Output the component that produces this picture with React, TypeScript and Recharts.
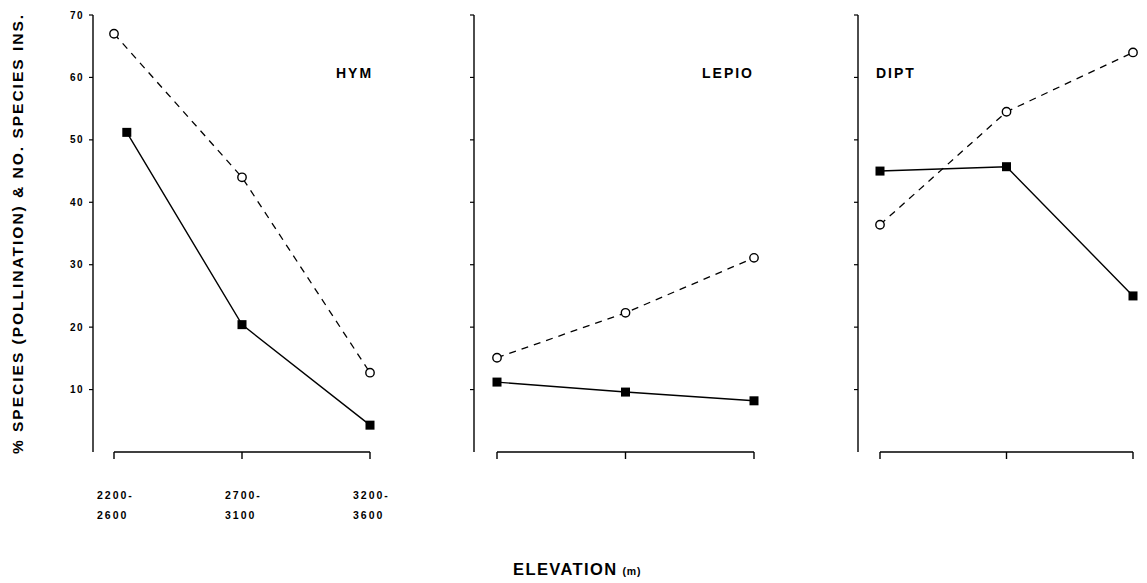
import React from 'react';
import { LineChart, Line, XAxis, YAxis, ReferenceLine } from 'recharts';

// elevation bands (m)
const categories = ['2200-2600', '2700-3100', '3200-3600'];
const yTicks = [10, 20, 30, 40, 50, 60, 70];

// open circles, dashed = % species (pollination); filled squares, solid = no. species ins.
const hymOpen = [67, 44, 12.7];
const hymSolid = [51.2, 20.4, 4.3];
const lepidOpen = [15.1, 22.3, 31.1];
const lepidSolid = [11.2, 9.6, 8.2];
const diptOpen = [36.4, 54.5, 64];
const diptSolid = [45, 45.7, 25];

// x position of each point (category index); first HYM square sits a bit right of its tick
const openX = [0, 1, 2];
const hymSolidX = [0.1, 1, 2];
const solidX = [0, 1, 2];

const FONT = '"Liberation Sans", Arial, sans-serif';

const toPoints = (xs: number[], ys: number[]) => ys.map((y, i) => ({ x: xs[i], y }));

const OpenDot = (props: any) => {
  const { cx, cy } = props;
  if (cx == null || cy == null) return null;
  return <circle cx={cx} cy={cy} r={4.2} fill="#fff" stroke="#000" strokeWidth={1.4} />;
};

const SquareDot = (props: any) => {
  const { cx, cy } = props;
  if (cx == null || cy == null) return null;
  return <rect x={cx - 4.5} y={cy - 4.5} width={9} height={9} fill="#000" />;
};

const ElevationTick = (props: any) => {
  const { x, y, payload } = props;
  const [a, b] = categories[payload.value].split('-');
  return (
    <g>
      <text x={x - 17} y={y + 38} fontSize={10.5} fontWeight={700} letterSpacing={2} fontFamily={FONT} fill="#000">
        {a + '-'}
      </text>
      <text x={x - 17} y={y + 58} fontSize={10.5} fontWeight={700} letterSpacing={2} fontFamily={FONT} fill="#000">
        {b}
      </text>
    </g>
  );
};

// tick lines only, no text
const NoLabel = () => <g />;

interface PanelProps {
  left: number;
  width: number;
  axisWidth: number;
  padLeft: number;
  marginRight: number;
  labels: boolean;
  open: number[];
  solid: number[];
  solidXs: number[];
}

const Panel: React.FC<PanelProps> = ({ left, width, axisWidth, padLeft, marginRight, labels, open, solid, solidXs }) => (
  <div style={{ position: 'absolute', left, top: 0 }}>
    <LineChart width={width} height={583} margin={{ top: 15, right: marginRight, bottom: 61, left: 0 }}>
      <XAxis
        dataKey="x"
        type="number"
        domain={[0, 2]}
        ticks={[0, 1, 2]}
        padding={{ left: padLeft, right: 0 }}
        axisLine={false}
        tickLine={{ stroke: '#000', strokeWidth: 1.4 }}
        tickSize={7}
        height={70}
        tick={labels ? <ElevationTick /> : <NoLabel />}
        allowDuplicatedCategory={false}
      />
      <YAxis
        type="number"
        domain={[0, 70]}
        ticks={yTicks}
        width={axisWidth}
        axisLine={{ stroke: '#000', strokeWidth: 1.4 }}
        tickLine={{ stroke: '#000', strokeWidth: 1.2 }}
        tickSize={4}
        tickMargin={5}
        tick={labels ? { fill: '#000', fontSize: 10, fontWeight: 700, fontFamily: FONT, letterSpacing: 1.5 } : <NoLabel />}
        label={
          labels
            ? {
                value: '% SPECIES (POLLINATION) & NO. SPECIES INS.',
                angle: -90,
                position: 'insideLeft',
                offset: 17,
                fill: '#000',
                fontSize: 15.5,
                fontWeight: 700,
                fontFamily: FONT,
                letterSpacing: 2,
                style: { textAnchor: 'middle' },
              }
            : undefined
        }
      />
      <ReferenceLine
        segment={[{ x: 0, y: 0 }, { x: 2, y: 0 }]}
        stroke="#000"
        strokeWidth={1.6}
        ifOverflow="visible"
      />
      <Line
        data={toPoints(openX, open)}
        dataKey="y"
        stroke="#000"
        strokeWidth={1.3}
        strokeDasharray="7 6"
        dot={<OpenDot />}
        activeDot={false}
        isAnimationActive={false}
      />
      <Line
        data={toPoints(solidXs, solid)}
        dataKey="y"
        stroke="#000"
        strokeWidth={1.4}
        dot={<SquareDot />}
        activeDot={false}
        isAnimationActive={false}
      />
    </LineChart>
  </div>
);

const titleStyle = { fontSize: 14, fontWeight: 700, fontFamily: FONT, letterSpacing: 2, fill: '#000' } as const;

export default function App() {
  return (
    <div style={{ position: 'absolute', left: 0, top: 0, width: 1147, height: 583, background: '#fff', fontFamily: FONT }}>
      <Panel left={0} width={400} axisWidth={93} padLeft={21} marginRight={30} labels open={hymOpen} solid={hymSolid} solidXs={hymSolidX} />
      <Panel left={400} width={380} axisWidth={74} padLeft={23} marginRight={26} labels={false} open={lepidOpen} solid={lepidSolid} solidXs={solidX} />
      <Panel left={780} width={367} axisWidth={78} padLeft={22} marginRight={14} labels={false} open={diptOpen} solid={diptSolid} solidXs={solidX} />
      <svg width={1147} height={583} style={{ position: 'absolute', left: 0, top: 0, pointerEvents: 'none' }}>
        <text x={336} y={78} {...titleStyle}>HYM</text>
        <text x={702} y={78} {...titleStyle}>LEPIO</text>
        <text x={876} y={78} {...titleStyle}>DIPT</text>
        <text x={513} y={575} fontSize={16.5} fontWeight={700} fontFamily={FONT} letterSpacing={1.4} fill="#000">
          ELEVATION
          <tspan fontSize={10.5} dx={5} letterSpacing={0.8}>(m)</tspan>
        </text>
      </svg>
    </div>
  );
}
